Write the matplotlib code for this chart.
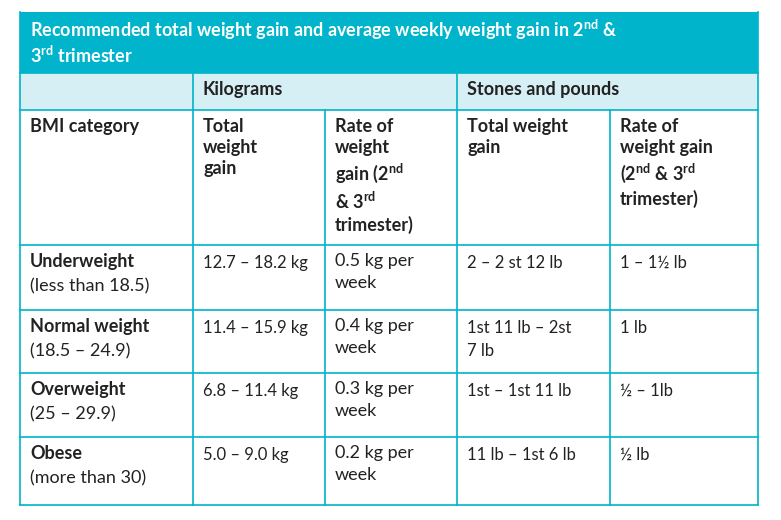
import matplotlib.pyplot as plt
from matplotlib.patches import Rectangle

plt.rcParams['font.family'] = ['Lato', 'DejaVu Sans']
plt.rcParams['mathtext.fontset'] = 'custom'
plt.rcParams['mathtext.rm'] = 'Lato'
plt.rcParams['mathtext.bf'] = 'Lato:bold'

title = ("Recommended total weight gain and average weekly weight gain in 2$^{\\mathbf{nd}}$ &\n"
         "3$^{\\mathbf{rd}}$ trimester")
groups = ["Kilograms", "Stones and pounds"]
col_heads = ["BMI category", "Total\nweight\ngain",
             "Rate of\nweight\ngain (2$^{\\mathbf{nd}}$\n& 3$^{\\mathbf{rd}}$\ntrimester)",
             "Total weight\ngain",
             "Rate of\nweight gain\n(2$^{\\mathbf{nd}}$ & 3$^{\\mathbf{rd}}$\ntrimester)"]
categories = ["Underweight", "Normal weight", "Overweight", "Obese"]
ranges = ["(less than 18.5)", "(18.5 – 24.9)", "(25 – 29.9)", "(more than 30)"]
total_kg = ["12.7 – 18.2 kg", "11.4 – 15.9 kg", "6.8 – 11.4 kg", "5.0 – 9.0 kg"]
rate_kg = ["0.5 kg per\nweek", "0.4 kg per\nweek", "0.3 kg per\nweek", "0.2 kg per\nweek"]
total_st = ["2 – 2 st 12 lb", "1st 11 lb – 2st\n7 lb", "1st – 1st 11 lb", "11 lb – 1st 6 lb"]
rate_lb = ["1 – 1½ lb", "1 lb", "½ – 1lb", "½ lb"]

# layout (pixels)
xs = [20, 193, 325, 457, 610, 758]
ys = [12, 73, 110, 245, 310, 373, 437, 505]
cyan = '#00b4cc'
light = '#d6eff5'
line = '#00b4cc'
txt = '#222222'

fig = plt.figure(figsize=(7.81, 5.20), dpi=100)
ax = fig.add_axes([0, 0, 1, 1])
ax.set_xlim(0, 781)
ax.set_ylim(520, 0)
ax.axis('off')

ax.add_patch(Rectangle((xs[0], ys[0]), xs[-1] - xs[0], ys[1] - ys[0], color=cyan, lw=0))
ax.add_patch(Rectangle((xs[0], ys[1]), xs[-1] - xs[0], ys[2] - ys[1], color=light, lw=0))

# grid lines
for y in ys[1:]:
    ax.plot([xs[0], xs[-1]], [y, y], color=line, lw=1.2)
for x in [xs[0], xs[-1]]:
    ax.plot([x, x], [ys[0], ys[-1]], color=line, lw=1.2)
for x in [xs[1], xs[3]]:
    ax.plot([x, x], [ys[1], ys[-1]], color=line, lw=1.2)
for x in [xs[2], xs[4]]:
    ax.plot([x, x], [ys[2], ys[-1]], color=line, lw=1.2)

pad = 10
ax.text(xs[0] + pad, ys[0] + 6, title, color='white', fontsize=13, fontweight='bold',
        va='top', linespacing=1.15)
ax.text(xs[1] + pad, ys[1] + 8, groups[0], color=txt, fontsize=13, fontweight='bold', va='top')
ax.text(xs[3] + pad, ys[1] + 8, groups[1], color=txt, fontsize=13, fontweight='bold', va='top')

for i, h in enumerate(col_heads):
    ax.text(xs[i] + pad, ys[2] + 8, h, color=txt, fontsize=13, fontweight='bold',
            va='top', linespacing=1.3)

for r in range(4):
    y = ys[3 + r] + 8
    ax.text(xs[0] + pad, y, categories[r], color=txt, fontsize=13, fontweight='bold', va='top')
    ax.text(xs[0] + pad, y + 25, ranges[r], color=txt, fontsize=13, va='top')
    ax.text(xs[1] + pad, y + 2, total_kg[r], color=txt, fontsize=12, va='top')
    ax.text(xs[2] + pad, y, rate_kg[r], color=txt, fontsize=13, va='top', linespacing=1.45)
    ax.text(xs[3] + pad, y + 2, total_st[r], color=txt, fontsize=12, va='top', linespacing=1.55)
    ax.text(xs[4] + pad, y + 2, rate_lb[r], color=txt, fontsize=12, va='top')

fig.savefig('out.png', dpi=100, facecolor='white')
